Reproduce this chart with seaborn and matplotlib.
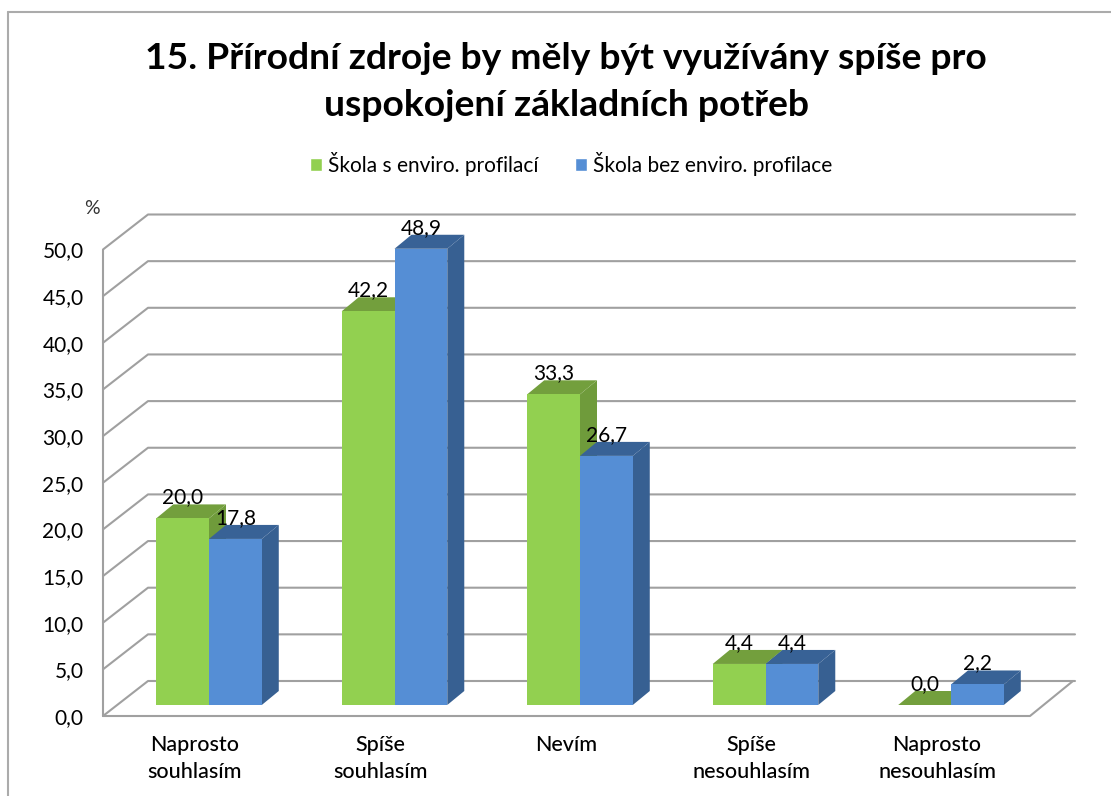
import pandas as pd
import matplotlib.pyplot as plt
import seaborn as sns
from matplotlib.lines import Line2D
from matplotlib.patches import Polygon

# values
categories = ['Naprosto\nsouhlasím', 'Spíše\nsouhlasím', 'Nevím', 'Spíše\nnesouhlasím', 'Naprosto\nnesouhlasím']
series_names = ['Škola s enviro. profilací', 'Škola bez enviro. profilace']
enviro = [20.0, 42.2, 33.3, 4.4, 0.0]
no_enviro = [17.8, 48.9, 26.7, 4.4, 2.2]
y_ticks = [0, 5, 10, 15, 20, 25, 30, 35, 40, 45, 50]
title = '15. Přírodní zdroje by měly být využívány spíše pro\nuspokojení základních potřeb'

W, H = 1111, 796
PX_X = 185.5   # pixels per category
PX_Y = 9.33    # pixels per percent

df = pd.DataFrame({
    'cat': categories * 2,
    'school': [series_names[0]] * 5 + [series_names[1]] * 5,
    'value': enviro + no_enviro,
})

sns.set_theme(style='white')
plt.rcParams['font.family'] = ['Lato', 'DejaVu Sans']

fig = plt.figure(figsize=(W / 100, H / 100), dpi=100)
ax = fig.add_axes([103 / W, 1 - 716 / H, (1075 - 103) / W, (716 - 214) / H])
ax.patch.set_alpha(0)

colors = {series_names[0]: '#92D050', series_names[1]: '#558ED5'}
sns.barplot(data=df, x='cat', y='value', hue='school', palette=colors, saturation=1,
            width=0.569, gap=0, dodge=True, ax=ax, errorbar=None, legend=True)

x0, x1 = -106 / PX_X, 866 / PX_X
y0, y1 = -11 / PX_Y, 491 / PX_Y
ax.set_xlim(x0, x1)
ax.set_ylim(y0, y1)

# walls and floor
wall_dx, wall_dy = 45 / PX_X, 35 / PX_Y
grid = dict(color='#a0a0a0', lw=1.5, solid_capstyle='round', zorder=1, clip_on=False)
for v in y_ticks:
    front = y0 + v
    ax.plot([x0, x0 + wall_dx, x1], [front, front + wall_dy, front + wall_dy], **grid)
ax.plot([x0, x0], [y0, y0 + 50], **grid)
floor_end = x1 - 45 / PX_X
ax.plot([x0, floor_end, x1 - 2 / PX_X], [y0, y0, y0 + wall_dy], **grid)

# fake 3d depth on every bar
depth_dx, depth_dy = 17 / PX_X, 14 / PX_Y
shades = [('#6F9B3B', '#739F3D'), ('#376092', '#386296')]
for s, cont in enumerate(ax.containers):
    side_col, top_col = shades[s]
    for i, bar in enumerate(cont.patches):
        z = 3 + i * 2 + s * 0.5
        l, r = bar.get_x(), bar.get_x() + bar.get_width()
        t = bar.get_height()
        bar.set_zorder(z + 0.2)
        bar.set_linewidth(0)
        ax.add_patch(Polygon([(r, 0), (r + depth_dx, depth_dy), (r + depth_dx, t + depth_dy), (r, t)],
                             closed=True, fc=side_col, ec='none', zorder=z))
        ax.add_patch(Polygon([(l, t), (l + depth_dx, t + depth_dy), (r + depth_dx, t + depth_dy), (r, t)],
                             closed=True, fc=top_col, ec='none', zorder=z + 0.1))
        ax.annotate(f'{t:.1f}'.replace('.', ','), ((l + r) / 2, t), xytext=(0, 21 * 0.72),
                    textcoords='offset points', ha='center', va='center',
                    fontsize=15, color='black', zorder=30)

ax.set_xticks([i - 14 / PX_X for i in range(5)], labels=categories)
ax.set_yticks([y0 + v for v in y_ticks], labels=[f'{v:.1f}'.replace('.', ',') for v in y_ticks])
ax.tick_params(axis='x', length=0, pad=14, labelsize=15.5, labelcolor='black')
ax.tick_params(axis='y', length=0, pad=14, labelsize=15, labelcolor='black')
for lab in ax.get_xticklabels():
    lab.set_linespacing(1.4)
    lab.set_fontweight('medium')
ax.set_xlabel('')
ax.set_ylabel('')
sns.despine(ax=ax, left=True, bottom=True)

handles, labels = ax.get_legend_handles_labels()
ax.get_legend().remove()
fig.legend(handles, labels, loc='center', bbox_to_anchor=(571 / W, 1 - 164 / H), ncol=2,
           frameon=False, fontsize=15, handlelength=0.57, handleheight=0.62,
           handletextpad=0.3, columnspacing=1.75, labelcolor='black')

fig.text(566 / W, 1 - 82 / H, title, ha='center', va='center', fontsize=26.8, fontweight='bold',
         color='black', linespacing=1.5)
fig.text(92 / W, 1 - 208 / H, '%', ha='center', va='center', fontsize=14, color='#333333')

# picture frame, top and left only
frame = dict(color='#ababab', lw=1.5, transform=fig.transFigure)
fig.add_artist(Line2D([8 / W, 1], [1 - 12 / H, 1 - 12 / H], **frame))
fig.add_artist(Line2D([8 / W, 8 / W], [0, 1 - 12 / H], **frame))

fig.savefig('out.png', dpi=100)
